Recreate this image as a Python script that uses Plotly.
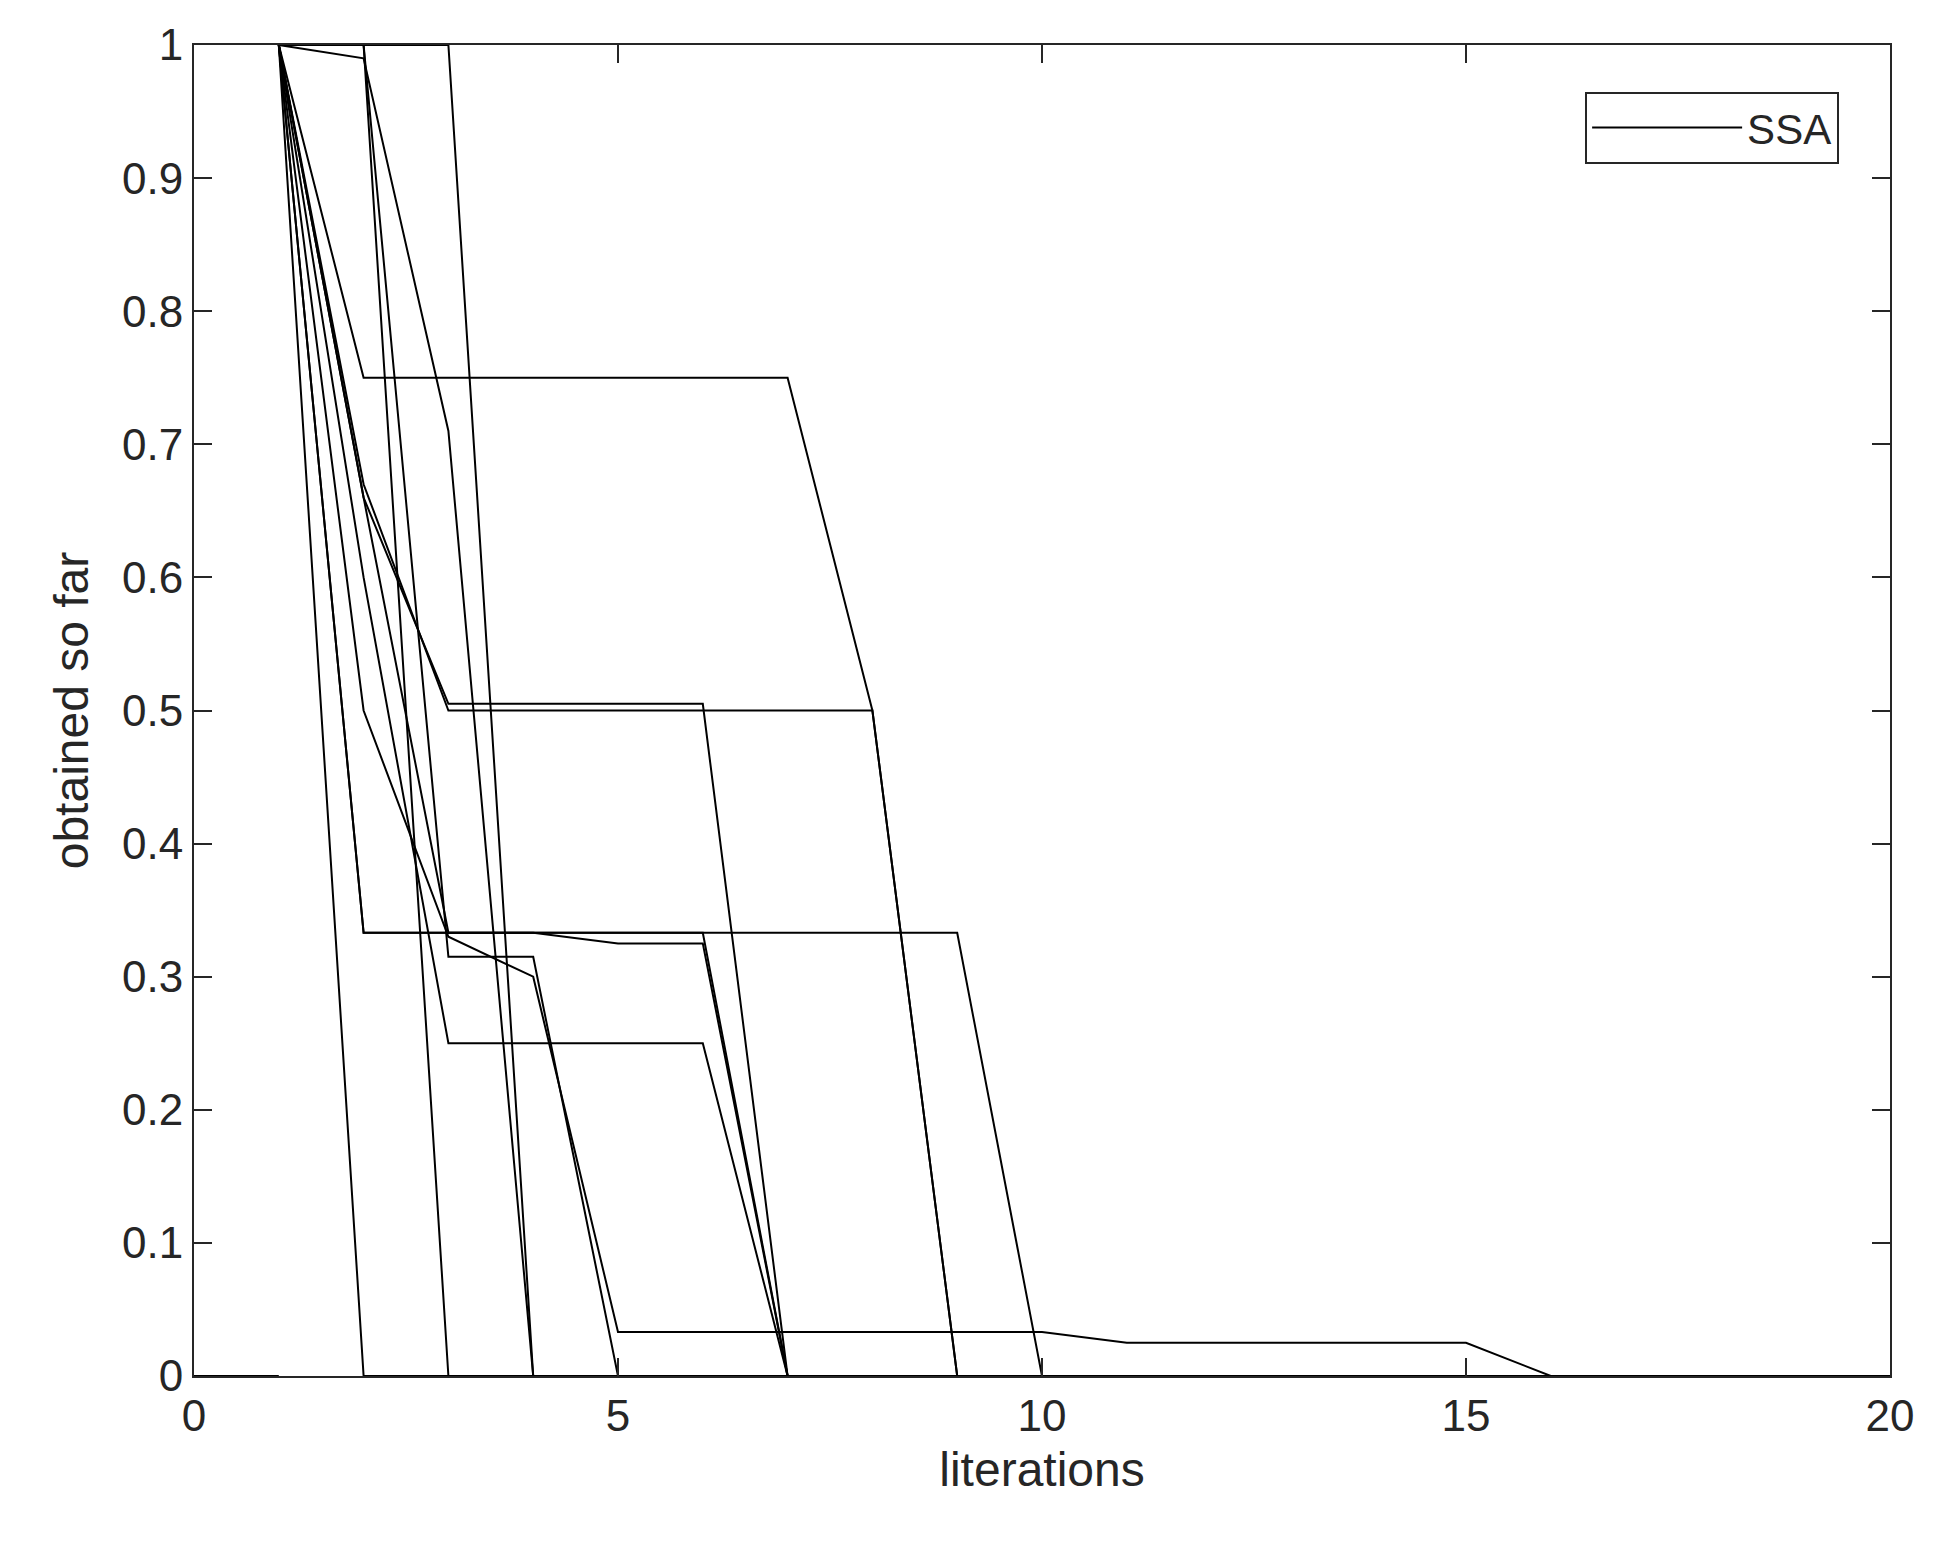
import plotly.graph_objects as go

N_ITER = 20
series = [
    [1, 0],
    [1, 1, 0],
    [1, 1, 1, 0],
    [1, 0.99, 0.71, 0],
    [1, 0.75, 0.75, 0.75, 0.75, 0.75, 0.75, 0.5, 0],
    [1, 0.67, 0.5, 0.5, 0.5, 0.5, 0.5, 0.5, 0],
    [1, 0.66, 0.505, 0.505, 0.505, 0.505, 0],
    [1, 0.333, 0.333, 0.333, 0.333, 0.333, 0.333, 0.333, 0.333, 0],
    [1, 0.333, 0.333, 0.333, 0.333, 0.333, 0],
    [1, 0.66, 0.333, 0.333, 0.325, 0.325, 0],
    [1, 1, 0.315, 0.315, 0],
    [1, 0.6, 0.25, 0.25, 0.25, 0.25, 0],
    [1, 0.5, 0.33, 0.3, 0.033, 0.033, 0.033, 0.033, 0.033, 0.033, 0.025, 0.025, 0.025, 0.025, 0.025, 0],
]
baseline_x = [0, 1]
baseline_y = [0, 0]

fig = go.Figure()
fig.add_trace(go.Scatter(x=baseline_x, y=baseline_y, mode="lines",
                         line=dict(color="black", width=2), showlegend=False))
for i, s in enumerate(series):
    ys = s + [0] * (N_ITER - len(s))
    xs = list(range(1, N_ITER + 1))
    fig.add_trace(go.Scatter(x=xs, y=ys, mode="lines", name="SSA",
                             line=dict(color="black", width=2), showlegend=(i == 0)))

axis = dict(showline=True, linecolor="#262626", linewidth=2, mirror="ticks",
            ticks="inside", ticklen=18, tickwidth=2, tickcolor="#262626",
            showgrid=False, zeroline=False,
            tickfont=dict(family="Liberation Sans, Arial", size=44, color="#262626"),
            title_font=dict(family="Liberation Sans, Arial", size=48, color="#262626"))
fig.update_xaxes(**axis, range=[0, 20], tickvals=[0, 5, 10, 15, 20], title_text="literations",
                 title_standoff=14)
fig.update_yaxes(**axis, range=[0, 1], title_text="obtained so far",
                 tickvals=[i / 10 for i in range(11)],
                 ticktext=["0", "0.1", "0.2", "0.3", "0.4", "0.5", "0.6", "0.7", "0.8", "0.9", "1"],
                 title_standoff=18)
fig.update_layout(width=1934, height=1563, plot_bgcolor="white", paper_bgcolor="white",
                  margin=dict(l=186, r=52, t=33, b=195),
                  legend=dict(x=0.97, y=0.965, xanchor="right", yanchor="top",
                              bordercolor="#262626", borderwidth=2, bgcolor="white",
                              font=dict(family="Liberation Sans, Arial", size=42, color="#262626"),
                              itemwidth=150))
fig.write_html("out.html")
